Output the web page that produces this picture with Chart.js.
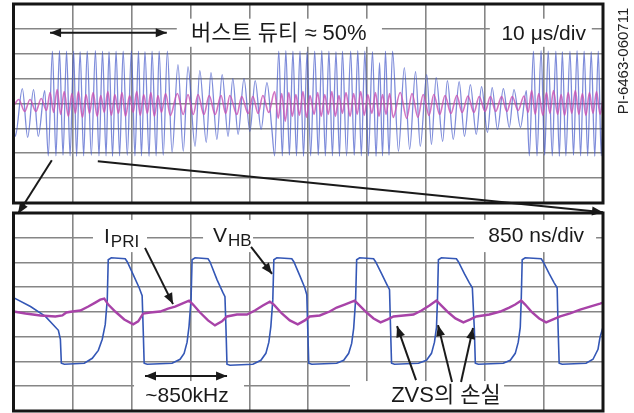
<!DOCTYPE html>
<html>
<head>
<meta charset="utf-8">
<script src="https://cdn.jsdelivr.net/npm/chart.js@4.4.1/dist/chart.umd.min.js"></script>
<style>
  html, body { margin: 0; padding: 0; background: #fff; }
  #wrap { position: relative; width: 634px; height: 413px; }
  #wrap canvas { position: absolute; left: 0; top: 0; }
</style>
</head>
<body>
<div id="wrap">
  <canvas id="burst" width="634" height="413"></canvas>
  <canvas id="detail" width="634" height="413"></canvas>
</div>
<script>
// Upper screen: 10 us/div, [time us, divisions]
const burstVhb = [
  [0,-0.6],[0.3,-1.32],[1.5,0.6],[2.4,-1.36],[3.4,0.56],[4.2,-1.32],[5.3,0.52],[5.9,-2.1],
  [6.6,2.1],[7.2,-2.1],[7.8,2.12],[8.4,-2.08],[9.0,2.1],[9.6,-2.1],[10.2,2.1],[10.7,-2.12],[11.3,2.08],[11.9,-2.1],
  [12.5,2.1],[13.2,-2.08],[13.9,2.12],[14.5,-2.1],[15.1,2.1],[15.7,-2.1],[16.2,2.08],[16.8,-2.12],[17.4,2.1],[18.0,-2.1],
  [18.6,2.1],[19.3,-2.08],[20.0,2.12],[20.6,-2.1],[21.2,2.1],[21.7,-2.1],[22.3,2.08],[23.0,-2.12],[23.5,2.1],[24.2,-2.1],
  [24.7,2.1],[25.4,-2.08],[26.1,2.1],
  [26.9,-1.96],[27.9,1.56],[28.8,-1.92],[29.6,1.48],[30.8,-1.72],[31.6,1.32],[32.7,-1.56],[33.5,1.24],[34.5,-1.44],
  [35.4,1.16],[36.4,-1.32],[37.2,1.0],[38.1,-1.24],[39.1,1.0],[40.1,-1.12],[41.0,0.92],[42.0,-1.04],[43.0,0.84],[43.8,-0.96],
  [44.3,-2.1],[45.0,2.1],[45.6,-2.1],[46.2,2.12],[46.8,-2.08],[47.4,2.1],[48.0,-2.1],[48.6,2.1],[49.2,-2.12],[49.8,2.08],
  [50.4,-2.1],[51.1,2.1],[51.7,-2.08],[52.3,2.12],[52.9,-2.1],[53.5,2.1],[54.1,-2.1],[54.7,2.08],[55.3,-2.12],[55.8,2.1],
  [56.5,-2.1],[57.2,2.1],[57.8,-2.08],[58.4,2.12],[59.0,-2.1],[59.6,2.1],[60.2,-2.1],[60.9,2.08],[61.5,-2.12],[62.1,1.64],
  [62.6,-2.1],[63.1,2.1],[63.7,-2.08],[64.3,2.1],
  [65.3,-1.92],[66.3,1.44],[67.2,-1.84],[68.2,1.28],[69.0,-1.72],[70.1,1.16],[70.9,-1.64],[71.7,1.04],[72.8,-1.52],[73.6,0.92],
  [74.6,-1.44],[75.6,0.88],[76.5,-1.32],[77.5,0.76],[78.5,-1.24],[79.4,0.68],[80.4,-1.16],[81.2,0.64],[82.1,-1.04],[83.1,0.6],
  [84.1,-0.96],[84.9,0.56],[86.0,-0.96],[87.0,0.52],
  [87.5,-2.1],[88.2,2.1],[88.8,-2.1],[89.5,2.12],[90.1,-2.08],[90.7,2.1],[91.4,-2.1],[92.0,2.1],[92.6,-2.12],[93.1,2.08],
  [93.7,-2.1],[94.4,2.1],[95.0,-2.08],[95.6,2.12],[96.2,-2.1],[96.8,2.1],[97.4,-2.1],[98.0,2.08],[98.6,-2.12],[99.2,2.1],
  [99.7,-2.1],[100,0]
];
const burstIpri = [
  [0,-0.1],[0.9,0.16],[1.9,-0.32],[2.8,0.16],[3.8,-0.32],[4.7,0.2],[5.6,-0.28],
  [6.2,0.44],[6.8,-0.36],[7.4,0.56],[8.0,-0.44],[8.6,0.48],[9.3,-0.52],[9.9,0.4],[10.5,-0.4],[11.0,0.48],[11.7,-0.56],
  [12.3,0.36],[12.9,-0.4],[13.5,0.44],[14.2,-0.52],[14.8,0.32],[15.4,-0.36],[16.0,0.48],[16.6,-0.48],[17.2,0.36],[17.8,-0.4],
  [18.4,0.44],[19.0,-0.52],[19.7,0.32],[20.3,-0.36],[20.9,0.48],[21.5,-0.48],[22.1,0.36],[22.7,-0.4],[23.3,0.44],[23.9,-0.52],
  [24.5,0.32],[25.1,-0.36],[25.8,0.4],
  [26.6,-0.48],[27.8,0.4],[28.8,-0.44],[29.6,0.36],[30.5,-0.44],[31.3,0.36],[32.3,-0.44],[33.2,0.32],[34.2,-0.44],[35.2,0.32],
  [36.0,-0.4],[36.7,0.32],[37.9,-0.44],[38.7,0.28],[39.8,-0.4],[40.6,0.28],[41.5,-0.4],[42.3,0.32],[43.3,-0.36],
  [44.3,0.48],[44.9,-0.6],[45.5,0.4],[46.1,-0.72],[46.7,0.44],[47.3,-0.52],[47.9,0.36],[48.5,-0.48],[49.1,0.48],[49.7,-0.56],
  [50.3,0.32],[51.0,-0.44],[51.6,0.44],[52.2,-0.52],[52.8,0.36],[53.4,-0.44],[54.0,0.48],[54.6,-0.52],[55.2,0.32],[55.8,-0.4],
  [56.4,0.44],[57.1,-0.52],[57.7,0.4],[58.3,-0.44],[58.9,0.48],[59.5,-0.48],[60.1,0.36],[60.8,-0.4],[61.4,0.44],[62.0,-0.52],
  [62.6,0.36],[63.2,-0.44],[63.8,0.4],[64.4,-0.56],
  [65.6,0.44],[66.7,-0.6],[67.6,0.4],[68.6,-0.56],[69.5,0.36],[70.5,-0.48],[71.3,0.36],[72.3,-0.44],[73.2,0.32],[74.2,-0.4],
  [75.2,0.32],[76.1,-0.36],[77.1,0.3],[78.1,-0.36],[79.0,0.28],[80.0,-0.32],[80.9,0.28],[81.8,-0.32],[82.8,0.28],[83.7,-0.32],
  [84.6,0.28],[85.6,-0.28],[86.6,0.3],
  [87.3,-0.36],[87.9,0.52],[88.5,-0.44],[89.1,0.4],[89.8,-0.48],[90.4,0.44],[91.0,-0.4],[91.6,0.52],[92.3,-0.44],[92.9,0.36],
  [93.5,-0.48],[94.1,0.44],[94.7,-0.4],[95.3,0.52],[95.9,-0.44],[96.5,0.4],[97.1,-0.48],[97.7,0.44],[98.3,-0.4],[98.9,0.48],
  [99.5,-0.44],[100,0.2]
];

// Lower screen: 850 ns/div, [time ns, divisions]
const detailVhb = [
  [0,0.58],[245,0.22],[460,-0.18],[647,-0.74],[676,-1.10],[690,-2.07],[734,-2.11],[1021,-2.07],[1136,-1.87],[1223,-1.55],
  [1280,-1.10],[1323,-0.50],[1352,0.50],[1366,2.11],[1410,2.19],[1611,2.15],[1640,2.03],[1726,1.51],[1812,0.98],[1855,0.66],
  [1870,-0.70],[1884,-2.07],[1927,-2.11],[2287,-2.07],[2402,-1.91],[2460,-1.67],[2503,-1.22],[2531,-0.58],[2560,0.50],[2575,2.11],
  [2618,2.19],[2805,2.15],[2833,2.03],[2934,1.31],[3020,0.78],[3049,0.62],[3064,-0.70],[3078,-2.11],[3121,-2.15],[3452,-2.11],
  [3567,-1.95],[3639,-1.67],[3682,-1.22],[3711,-0.58],[3739,0.50],[3754,2.11],[3797,2.19],[4013,2.15],[4042,2.03],[4128,1.47],
  [4200,0.98],[4229,0.70],[4243,-0.70],[4257,-2.07],[4301,-2.11],[4660,-2.07],[4761,-1.95],[4833,-1.67],[4876,-1.27],[4905,-0.66],
  [4933,0.50],[4948,2.11],[4991,2.19],[5192,2.15],[5221,2.03],[5307,1.55],[5379,1.14],[5422,0.90],[5437,-0.70],[5451,-2.07],
  [5494,-2.11],[5840,-2.07],[5955,-1.95],[6027,-1.67],[6070,-1.22],[6099,-0.62],[6113,0.50],[6127,2.11],[6170,2.19],[6386,2.15],
  [6415,2.03],[6501,1.55],[6573,1.18],[6616,0.98],[6645,-0.70],[6659,-2.07],[6702,-2.11],[7062,-2.07],[7163,-1.95],[7235,-1.67],
  [7278,-1.22],[7307,-0.62],[7321,0.50],[7335,2.11],[7378,2.19],[7609,2.15],[7637,2.03],[7724,1.55],[7796,1.18],[7839,0.98],
  [7853,-0.70],[7868,-2.07],[7911,-2.11],[8256,-2.07],[8356,-1.91],[8428,-1.51],[8457,-1.02],[8500,-0.62]
];
const detailIpri = [
  [0,0.02],[173,-0.06],[388,-0.14],[604,-0.18],[705,-0.14],[762,-0.02],[849,0.02],[964,0.06],[1079,0.22],[1179,0.38],
  [1251,0.50],[1309,0.54],[1366,0.30],[1467,0.02],[1597,-0.30],[1726,-0.50],[1798,-0.38],[1870,-0.06],[1970,-0.02],[2114,0.02],
  [2229,0.14],[2330,0.22],[2431,0.34],[2531,0.46],[2589,0.30],[2690,-0.02],[2805,-0.34],[2905,-0.54],[3006,-0.38],[3078,-0.18],
  [3222,-0.10],[3366,-0.10],[3481,0.06],[3596,0.26],[3696,0.42],[3754,0.30],[3869,-0.06],[3984,-0.34],[4099,-0.50],[4200,-0.34],
  [4272,-0.18],[4416,-0.14],[4559,0.02],[4660,0.18],[4775,0.30],[4919,0.46],[4977,0.30],[5092,-0.02],[5192,-0.26],[5293,-0.42],
  [5394,-0.30],[5480,-0.18],[5624,-0.14],[5768,-0.10],[5883,0.06],[5998,0.26],[6098,0.46],[6156,0.30],[6271,-0.02],[6372,-0.26],
  [6487,-0.42],[6587,-0.30],[6674,-0.18],[6861,-0.10],[7019,0.02],[7148,0.18],[7235,0.30],[7321,0.46],[7378,0.30],[7479,-0.02],
  [7580,-0.26],[7680,-0.42],[7781,-0.30],[7882,-0.18],[8026,-0.06],[8170,0.10],[8313,0.22],[8457,0.34],[8500,0.38]
];

// labels and pointers, placed in each screen's own units
const burstNotes = {
  boxes: [[27.7, 3.41, 62.5, 2.28], [80.8, 3.41, 98.1, 2.28]],
  texts: [
    { x: 45.0, y: 2.56, text: '버스트 듀티 ≈ 50%', align: 'center', size: 22 },
    { x: 97.1, y: 2.56, text: '10 μs/div', align: 'right' }
  ],
  arrows: [
    { from: [6.2, 2.84], to: [26.0, 2.84], both: true },
    { from: [6.5, -2.28], to: [0.76, -4.43] },
    { from: [14.3, -2.32], to: [100, -4.37] }
  ]
};
const detailNotes = {
  boxes: [[1146, 3.72, 1925, 2.42], [2733, 3.72, 3454, 2.42], [6640, 3.72, 8400, 2.42],
          [1738, -2.79, 3324, -4.08], [4852, -2.79, 7073, -4.08]],
  texts: [
    { x: 1305, y: 2.79, text: 'I', sub: 'PRI', align: 'left' },
    { x: 2877, y: 2.83, text: 'V', sub: 'HB', align: 'left' },
    { x: 8227, y: 2.83, text: '850 ns/div', align: 'right' },
    { x: 2502, y: -3.64, text: '~850kHz', align: 'center' },
    { x: 6236, y: -3.64, text: 'ZVS의 손실', align: 'center', size: 22 }
  ],
  arrows: [
    { from: [1896, 2.59], to: [2300, 0.32] },
    { from: [3425, 2.63], to: [3728, 1.54] },
    { from: [1896, -2.59], to: [3079, -2.59], both: true },
    { from: [5804, -2.75], to: [5530, -0.57] },
    { from: [6323, -2.83], to: [6121, -0.53] },
    { from: [6453, -2.83], to: [6626, -0.65] }
  ]
};

const FONT = '"Liberation Sans", "Noto Sans CJK KR", sans-serif';

function arrowHead(ctx, x0, y0, x1, y1) {
  const a = Math.atan2(y1 - y0, x1 - x0), len = 11, w = 4.5;
  ctx.beginPath();
  ctx.moveTo(x1, y1);
  ctx.lineTo(x1 - len * Math.cos(a) + w * Math.sin(a), y1 - len * Math.sin(a) - w * Math.cos(a));
  ctx.lineTo(x1 - len * Math.cos(a) - w * Math.sin(a), y1 - len * Math.sin(a) + w * Math.cos(a));
  ctx.closePath();
  ctx.fill();
}

function notesPlugin(id, notes, sideLabel) {
  return {
    id,
    beforeDatasetsDraw(chart) {
      const ctx = chart.ctx, { x, y } = chart.scales;
      ctx.save();
      ctx.fillStyle = '#fff';
      notes.boxes.forEach(([x0, y0, x1, y1]) => {
        const l = x.getPixelForValue(x0), t = y.getPixelForValue(y0);
        ctx.fillRect(l, t, x.getPixelForValue(x1) - l, y.getPixelForValue(y1) - t);
      });
      ctx.restore();
    },
    afterDraw(chart) {
      const ctx = chart.ctx, { x, y } = chart.scales, a = chart.chartArea;
      ctx.save();
      ctx.strokeStyle = '#151515';
      ctx.lineWidth = 3;
      ctx.strokeRect(a.left, a.top, a.right - a.left, a.bottom - a.top);

      ctx.strokeStyle = '#1a1a1a';
      ctx.fillStyle = '#1a1a1a';
      ctx.lineWidth = 2;
      notes.arrows.forEach(n => {
        const x0 = x.getPixelForValue(n.from[0]), y0 = y.getPixelForValue(n.from[1]);
        const x1 = x.getPixelForValue(n.to[0]), y1 = y.getPixelForValue(n.to[1]);
        ctx.beginPath();
        ctx.moveTo(x0, y0);
        ctx.lineTo(x1, y1);
        ctx.stroke();
        arrowHead(ctx, x0, y0, x1, y1);
        if (n.both) arrowHead(ctx, x1, y1, x0, y0);
      });

      ctx.textBaseline = 'alphabetic';
      notes.texts.forEach(n => {
        const px = x.getPixelForValue(n.x), py = y.getPixelForValue(n.y);
        ctx.font = (n.size || 21) + 'px ' + FONT;
        ctx.textAlign = n.align;
        ctx.fillText(n.text, px, py);
        if (n.sub) {
          const w = ctx.measureText(n.text).width;
          ctx.font = '17px ' + FONT;
          ctx.textAlign = 'left';
          ctx.fillText(n.sub, px + w + 1, py + 4);
        }
      });

      if (sideLabel) {
        ctx.translate(a.right + 21, a.top + 57);
        ctx.rotate(-Math.PI / 2);
        ctx.font = '15px ' + FONT;
        ctx.textAlign = 'center';
        ctx.textBaseline = 'middle';
        ctx.fillStyle = '#222';
        ctx.fillText(sideLabel, 0, 0);
      }
      ctx.restore();
    }
  };
}

function gridAxis(min, max, step) {
  return {
    type: 'linear', min, max,
    ticks: { display: false, stepSize: step },
    grid: { color: '#868686', lineWidth: 1.6, drawTicks: false },
    border: { display: false }
  };
}

function scopeChart(canvasId, vhb, ipri, xMax, xStep, padding, smooth, style, notes, sideLabel) {
  return new Chart(document.getElementById(canvasId), {
    type: 'line',
    data: {
      datasets: [
        { label: 'IPRI', data: ipri.map(p => ({ x: p[0], y: p[1] })), borderColor: style.ipri,
          borderWidth: style.ipriWidth, order: 0 },
        { label: 'VHB', data: vhb.map(p => ({ x: p[0], y: p[1] })), borderColor: style.vhb,
          borderWidth: style.vhbWidth, order: 1 }
      ]
    },
    options: {
      responsive: false,
      animation: false,
      devicePixelRatio: 1,
      layout: { padding },
      elements: {
        point: { radius: 0 },
        line: { fill: false, tension: 0, cubicInterpolationMode: smooth ? 'monotone' : 'default' }
      },
      plugins: { legend: { display: false }, tooltip: { enabled: false } },
      scales: { x: gridAxis(0, xMax, xStep), y: gridAxis(-4, 4, 1) }
    },
    plugins: [notesPlugin(canvasId + 'Notes', notes, sideLabel)]
  });
}

scopeChart('burst', burstVhb, burstIpri, 100, 10,
  { left: 13.5, right: 31, top: 4, bottom: 210 }, true,
  { vhb: 'rgba(65,85,200,0.68)', vhbWidth: 1.3, ipri: 'rgba(200,80,180,0.8)', ipriWidth: 1.6 },
  burstNotes, 'PI-6463-060711');

scopeChart('detail', detailVhb, detailIpri, 8500, 850,
  { left: 13.5, right: 31, top: 213, bottom: 2 }, false,
  { vhb: '#3457b6', vhbWidth: 1.6, ipri: '#a843a8', ipriWidth: 2.4 },
  detailNotes, null);
</script>
</body>
</html>
